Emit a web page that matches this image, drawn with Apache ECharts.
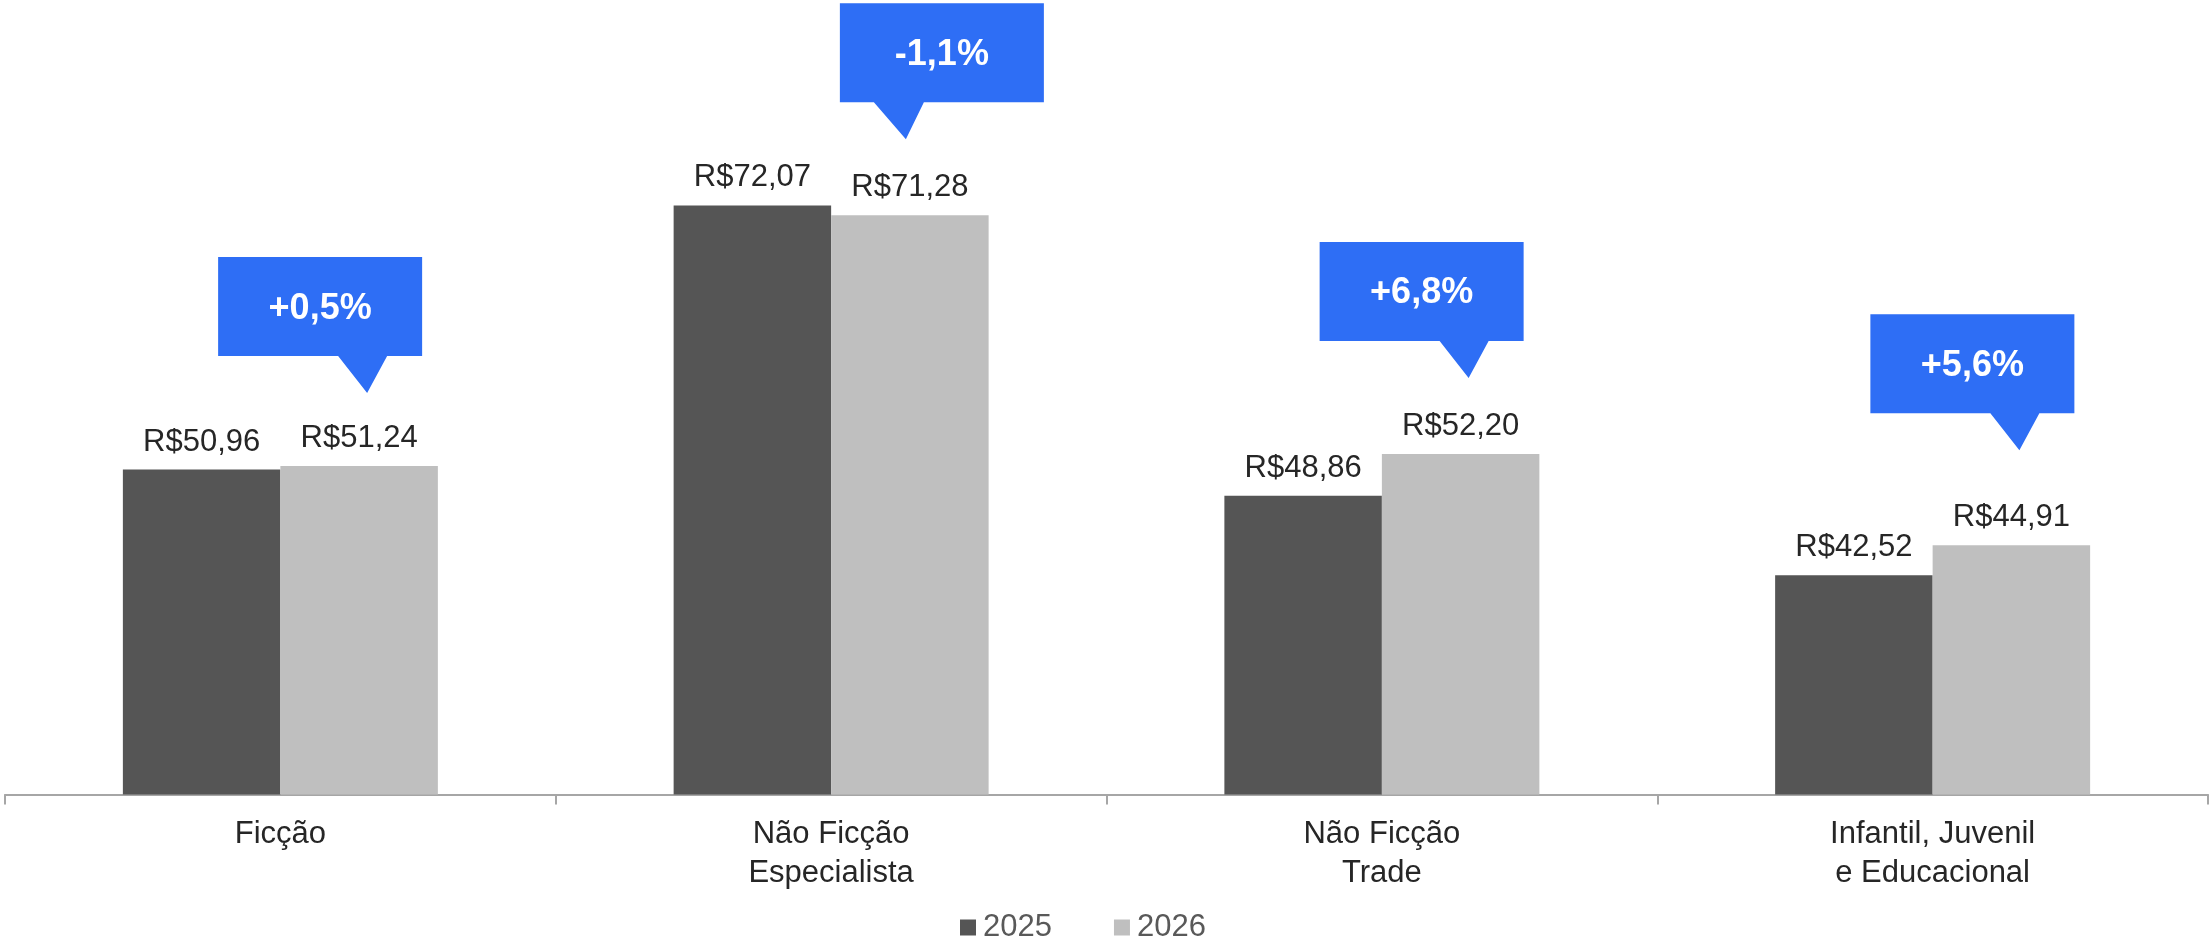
<!DOCTYPE html>
<html>
<head>
<meta charset="utf-8">
<script src="https://cdn.jsdelivr.net/npm/echarts@6/dist/echarts.min.js"></script>
<style>
  html, body { margin: 0; padding: 0; background: #fff; }
  #chart { width: 2210px; height: 937px; }
</style>
</head>
<body>
<div id="chart"></div>
<script>
var categories = ['Ficção', 'Não Ficção\nEspecialista', 'Não Ficção\nTrade', 'Infantil, Juvenil\ne Educacional'];
var years = ['2025', '2026'];
var values2025 = [50.96, 72.07, 48.86, 42.52];
var values2026 = [51.24, 71.28, 52.20, 44.91];
var changes = ['+0,5%', '-1,1%', '+6,8%', '+5,6%'];

// callout layout: which side the pointer sits on and how far above the 2026 bar its tip is
var calloutLayout = [
	{ tip: 'right', lift: 73 },
	{ tip: 'left', lift: 76 },
	{ tip: 'right', lift: 76 },
	{ tip: 'right', lift: 95 }
];

var shapes = {
	right: { path: 'path://M0,0L204,0L204,99L169,99L149,136L120,99L0,99Z', dx: -39 },
	left: { path: 'path://M0,0L204,0L204,99L84,99L66,136L34,99L0,99Z', dx: 32 }
};

var font = "'Liberation Sans', Arial, sans-serif";
var textColor = '#262626';

function money(v) {
	return 'R$' + v.toFixed(2).replace('.', ',');
}

var callouts = changes.map(function (c, i) {
	var s = shapes[calloutLayout[i].tip];
	return {
		name: c,
		coord: [i, values2026[i]],
		symbol: s.path,
		symbolSize: [204, 136],
		symbolOffset: [s.dx, -calloutLayout[i].lift - 68]
	};
});

var chart = echarts.init(document.getElementById('chart'));
chart.setOption({
	animation: false,
	backgroundColor: '#fff',
	textStyle: { fontFamily: font },
	grid: { left: 5, right: 2, top: 6, bottom: 142.5 },
	legend: {
		data: years,
		left: 955,
		top: 907,
		icon: 'rect',
		itemWidth: 16,
		itemHeight: 16,
		itemGap: 62,
		textStyle: { fontSize: 31, color: '#595959', fontFamily: font, padding: [0, 0, 0, 2] }
	},
	xAxis: {
		type: 'category',
		data: categories,
		axisLine: { lineStyle: { color: '#A6A6A6', width: 2 } },
		axisTick: { show: true, length: 10, lineStyle: { color: '#A6A6A6', width: 2 } },
		axisLabel: {
			fontSize: 31,
			lineHeight: 39,
			color: textColor,
			margin: 20,
			fontFamily: font
		}
	},
	yAxis: {
		type: 'value',
		min: 25,
		max: 88,
		show: false,
		splitLine: { show: false }
	},
	series: [
		{
			name: '2025',
			type: 'bar',
			data: values2025,
			barWidth: 157.5,
			barGap: '0%',
			itemStyle: { color: '#555555' },
			label: {
				show: true,
				position: 'top',
				distance: 12,
				fontSize: 31,
				color: textColor,
				fontFamily: font,
				formatter: function (p) { return money(p.value); }
			}
		},
		{
			name: '2026',
			type: 'bar',
			data: values2026,
			barWidth: 157.5,
			barGap: '0%',
			itemStyle: { color: '#BFBFBF' },
			label: {
				show: true,
				position: 'top',
				distance: 12,
				fontSize: 31,
				color: textColor,
				fontFamily: font,
				formatter: function (p) { return money(p.value); }
			},
			markPoint: {
				silent: true,
				itemStyle: { color: '#2E6EF5' },
				label: {
					show: true,
					position: 'inside',
					offset: [0, -16.5],
					color: '#fff',
					fontSize: 36,
					fontWeight: 'bold',
					fontFamily: font,
					formatter: '{b}'
				},
				data: callouts
			}
		}
	]
});
</script>
</body>
</html>
